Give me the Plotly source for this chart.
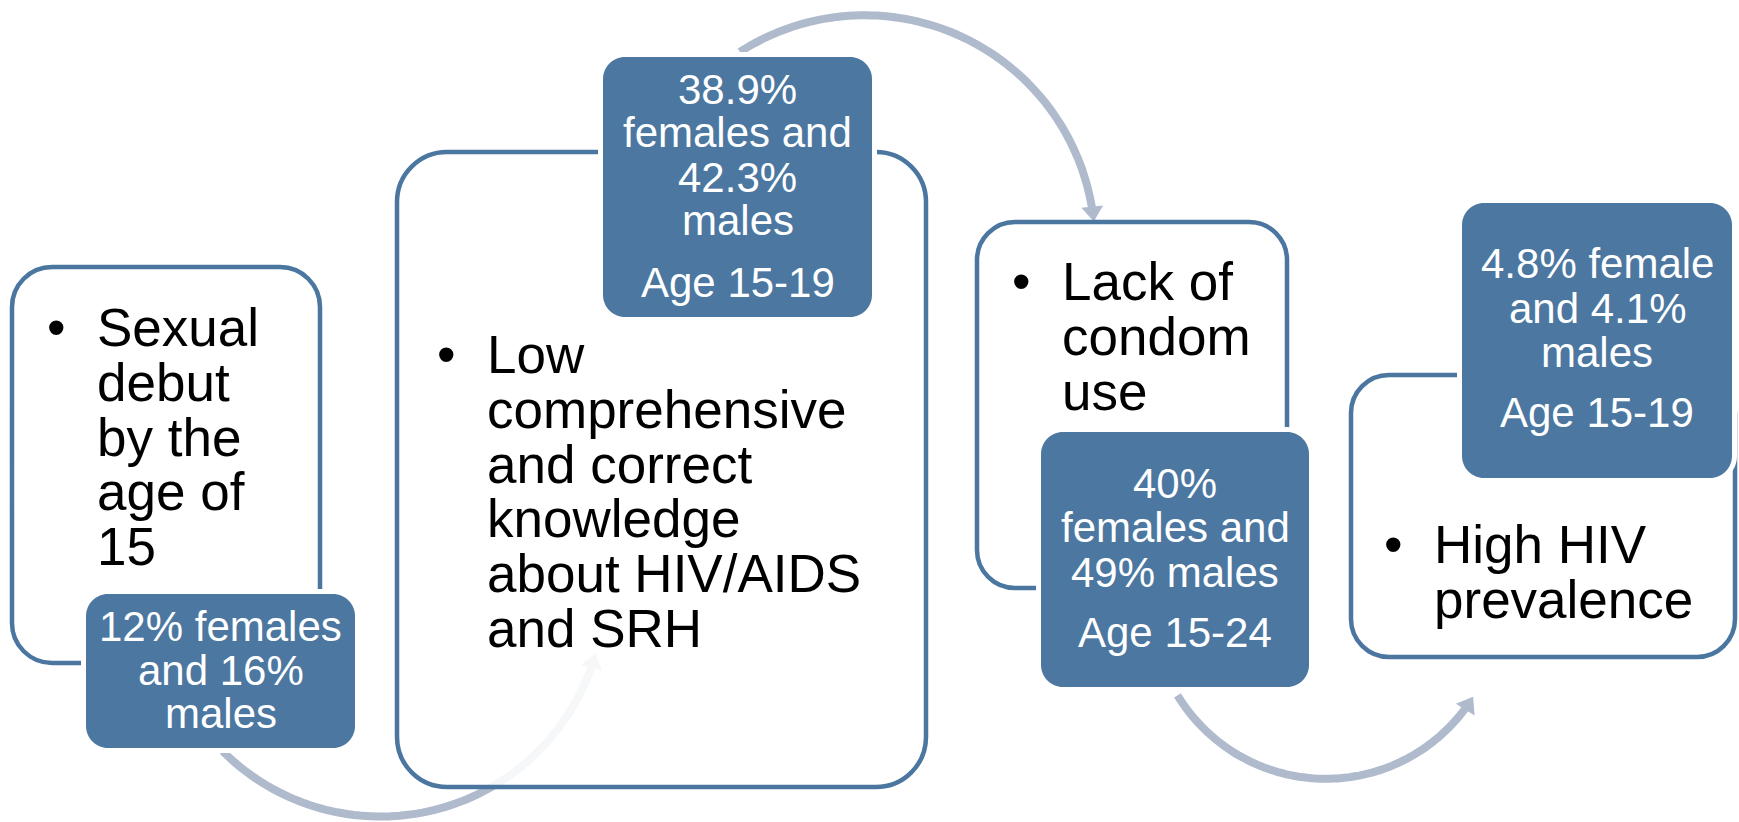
import numpy as np
import plotly.graph_objects as go

W, H = 1739, 822

# ---------------- content ----------------
risk_lines = [
    ["Sexual", "debut", "by the", "age of", "15"],
    ["Low", "comprehensive", "and correct", "knowledge", "about HIV/AIDS", "and SRH"],
    ["Lack of", "condom", "use"],
    ["High HIV", "prevalence"],
]
stat_lines = [
    ["12% females", "and 16%", "males"],
    ["38.9%", "females and", "42.3%", "males"],
    ["40%", "females and", "49% males"],
    ["4.8% female", "and 4.1%", "males"],
]
age_labels = [None, "Age 15-19", "Age 15-24", "Age 15-19"]

# ---------------- geometry (pixel layout) ----------------
white_boxes = [(12, 267, 320, 663), (397, 152, 926, 787), (977, 222, 1287, 588), (1351, 375, 1735, 657)]
white_radius = [40, 50, 38, 38]
dark_boxes = [(86, 594, 355, 748), (603, 57, 872, 317), (1041, 432, 1309, 687), (1462, 203, 1732, 478)]
dark_radius = 22
text_left = [97, 487, 1062, 1434]
first_baseline = [346, 373, 300, 563]
white_line_gap = 54.8
stat_baselines = [[641, 685, 728], [104, 147, 192, 235], [498, 542, 587], [278, 323, 367]]
age_baselines = [None, 297, 647, 427]

arc_points = [
    [(222, 752), (300, 800), (367, 815), (380, 817), (490, 790), (547, 743), (580, 687), (597, 654)],
    [(740, 52), (800, 27), (870, 13), (933, 23), (983, 47), (1023, 80), (1060, 133), (1083, 177), (1098, 221)],
    [(1178, 695), (1217, 740), (1267, 770), (1327, 780), (1383, 768), (1433, 738), (1475, 698)],
]

DARK = "#4B77A1"
OUTLINE = "#4A76A0"
ARC = "#AFBBCD"
FONT = "Arial, Liberation Sans, sans-serif"


def rrect(x0, y0, x1, y1, r):
    k = 0.5523 * r
    return (f"M{x0+r},{y0} L{x1-r},{y0} C{x1-r+k},{y0} {x1},{y0+r-k} {x1},{y0+r} "
            f"L{x1},{y1-r} C{x1},{y1-r+k} {x1-r+k},{y1} {x1-r},{y1} "
            f"L{x0+r},{y1} C{x0+r-k},{y1} {x0},{y1-r+k} {x0},{y1-r} "
            f"L{x0},{y0+r} C{x0},{y0+r-k} {x0+r-k},{y0} {x0+r},{y0} Z")


def fit_circle(pts):
    p = np.array(pts, dtype=float)
    A = np.column_stack([p[:, 0], p[:, 1], np.ones(len(p))])
    b = -(p[:, 0] ** 2 + p[:, 1] ** 2)
    D, E, F = np.linalg.lstsq(A, b, rcond=None)[0]
    cx, cy = -D / 2, -E / 2
    r = np.sqrt(cx ** 2 + cy ** 2 - F)
    return cx, cy, r


shapes = []
annotations = []

# arcs (drawn first, beneath the boxes)
for pts in arc_points:
    cx, cy, r = fit_circle(pts)
    ang = np.unwrap([np.arctan2(y - cy, x - cx) for x, y in pts])
    t0, t_tip = ang[0], ang[-1]
    s = np.sign(t_tip - t0)
    L, hw = 15.0, 11.0
    t_end = t_tip - s * (L - 2) / r
    ts = np.linspace(t0, t_end, 80)
    xs = cx + r * np.cos(ts)
    ys = cy + r * np.sin(ts)
    path = "M" + " L".join(f"{x:.1f},{y:.1f}" for x, y in zip(xs, ys))
    shapes.append(dict(type="path", path=path, xref="x", yref="y",
                       line=dict(color=ARC, width=8), fillcolor="rgba(0,0,0,0)", layer="above"))
    tx, ty = cx + r * np.cos(t_tip), cy + r * np.sin(t_tip)
    ux, uy = s * -np.sin(t_tip), s * np.cos(t_tip)
    nx, ny = -uy, ux
    bx, by = tx - L * ux, ty - L * uy
    tri = (f"M{tx:.1f},{ty:.1f} L{bx + hw*nx:.1f},{by + hw*ny:.1f} "
           f"L{bx - hw*nx:.1f},{by - hw*ny:.1f} Z")
    shapes.append(dict(type="path", path=tri, xref="x", yref="y",
                       line=dict(color=ARC, width=0), fillcolor=ARC, layer="above"))

# white outlined boxes
for (x0, y0, x1, y1), r in zip(white_boxes, white_radius):
    shapes.append(dict(type="path", path=rrect(x0, y0, x1, y1, r), xref="x", yref="y",
                       line=dict(color=OUTLINE, width=4.5), fillcolor="rgba(255,255,255,0.88)",
                       layer="above"))

# dark stat boxes with white halo
for (x0, y0, x1, y1) in dark_boxes:
    pad = 5
    shapes.append(dict(type="path", path=rrect(x0 - pad, y0 - pad, x1 + pad, y1 + pad, dark_radius + pad),
                       xref="x", yref="y", line=dict(color="white", width=0), fillcolor="white",
                       layer="above"))
    shapes.append(dict(type="path", path=rrect(x0, y0, x1, y1, dark_radius), xref="x", yref="y",
                       line=dict(color=DARK, width=0), fillcolor=DARK, layer="above"))

# black bullet text
WS = 53
for lines, xl, b0 in zip(risk_lines, text_left, first_baseline):
    annotations.append(dict(x=xl - 41, y=b0 - 0.35 * WS, text="•", showarrow=False,
                            xanchor="center", yanchor="middle", xref="x", yref="y",
                            font=dict(family=FONT, size=WS, color="black")))
    for i, ln in enumerate(lines):
        annotations.append(dict(x=xl - 2, y=b0 + i * white_line_gap - 0.35 * WS, text=ln,
                                showarrow=False, xanchor="left", yanchor="middle",
                                xref="x", yref="y",
                                font=dict(family=FONT, size=WS, color="black")))

# white stat text
DS = 42
for lines, (x0, y0, x1, y1), bls, age, ab in zip(stat_lines, dark_boxes, stat_baselines,
                                                 age_labels, age_baselines):
    xc = (x0 + x1) / 2
    for ln, bl in zip(lines, bls):
        annotations.append(dict(x=xc, y=bl - 0.35 * DS, text=ln, showarrow=False,
                                xanchor="center", yanchor="middle", xref="x", yref="y",
                                font=dict(family=FONT, size=DS, color="white")))
    if age:
        annotations.append(dict(x=xc, y=ab - 0.35 * DS, text=age, showarrow=False,
                                xanchor="center", yanchor="middle", xref="x", yref="y",
                                font=dict(family=FONT, size=DS, color="white")))

fig = go.Figure()
fig.add_trace(go.Scatter(x=[0, W], y=[0, H], mode="markers", marker=dict(opacity=0),
                         hoverinfo="skip", showlegend=False))
fig.update_layout(
    width=W, height=H, margin=dict(l=0, r=0, t=0, b=0),
    paper_bgcolor="white", plot_bgcolor="white",
    xaxis=dict(range=[0, W], visible=False, fixedrange=True),
    yaxis=dict(range=[H, 0], visible=False, fixedrange=True),
    shapes=shapes, annotations=annotations, showlegend=False,
)
fig.write_html("out.html", config={"displayModeBar": False},
               post_script="document.body.style.margin='0';document.body.style.overflow='hidden';")
